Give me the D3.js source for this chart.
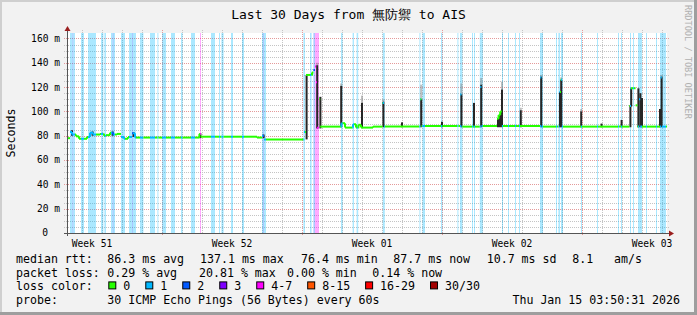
<!DOCTYPE html>
<html>
<head>
<meta charset="utf-8">
<script src="https://cdn.jsdelivr.net/npm/d3@7"></script>
<style>
  body { margin: 0; background: #fff; }
  svg text { font-family: "DejaVu Sans Mono", monospace; fill: #000; }
</style>
</head>
<body>
<svg id="chart" width="697" height="315"></svg>
<script>
// ---- data (times are days after the left edge) ----
const title = "Last 30 Days from 無防禦 to AIS";
const startTime = Date.UTC(2025, 11, 17, 6);   // left edge of the plot
const spanDays = 30;
const yTicks = [0, 20, 40, 60, 80, 100, 120, 140, 160];

// median rtt (ms), a new value holds until the next step
const medianSteps = [
  [0.00, 78], [0.15, 83], [0.25, 81], [0.45, 79.5], [0.60, 77.5], [1.00, 79],
  [1.15, 82.5], [1.30, 81], [1.65, 81.5], [1.85, 80], [1.95, 80.5], [2.15, 82.5],
  [2.30, 81], [2.50, 81.5], [2.70, 79], [2.85, 77.5], [3.05, 79], [3.25, 82],
  [3.40, 78.5], [6.62, 81.5], [6.70, 79.2], [9.50, 78.5], [9.75, 80], [9.85, 77],
  [11.85, 83], [11.95, 130], [12.25, 132], [12.32, 134], [12.40, 137], [12.45, 124],
  [12.50, 86.5], [12.58, 110], [12.66, 87.5], [13.72, 90.3], [13.90, 86.7],
  [14.30, 89.5], [14.45, 86.7], [14.57, 89], [14.70, 86.7], [15.30, 87.5],
  [15.78, 107], [15.85, 87.5], [17.66, 110], [17.72, 88], [19.66, 114], [19.72, 87.5],
  [20.66, 120], [20.72, 88], [21.50, 94], [21.58, 97], [21.66, 100], [21.74, 88],
  [23.66, 128], [23.72, 87.5], [24.62, 116], [24.68, 126], [24.74, 87.5],
  [28.12, 104.5], [28.18, 119], [28.43, 105], [28.52, 87.5], [28.60, 110], [28.66, 87.5],
  [29.68, 128], [29.74, 87.5]
];

// periods with packet loss: [from, to, loss colour index]
const lossSpans = [
  [0.15, 0.27, 1], [0.27, 0.32, 2], [0.32, 0.40, 1], [0.70, 0.85, 1], [1.05, 1.45, 1],
  [1.70, 1.82, 1], [1.87, 1.95, 1], [2.20, 2.28, 1], [2.28, 2.32, 2], [2.32, 2.40, 1],
  [2.70, 2.90, 1], [3.10, 3.25, 1], [3.25, 3.30, 2], [3.30, 3.45, 1], [3.65, 3.82, 1],
  [4.15, 4.40, 1], [4.52, 4.57, 1], [4.75, 4.95, 1], [5.20, 5.40, 1], [5.70, 5.78, 1],
  [6.20, 6.40, 1], [6.65, 6.70, 4], [7.20, 7.40, 1], [7.60, 7.65, 1], [7.72, 7.83, 1],
  [8.20, 8.30, 1], [8.75, 8.85, 1], [9.75, 9.80, 1], [9.80, 9.85, 2], [9.85, 9.95, 1],
  [11.82, 11.90, 1], [12.15, 12.23, 1], [12.32, 12.40, 2], [12.40, 12.60, 4],
  [13.70, 13.78, 1], [14.28, 14.35, 1], [14.48, 14.56, 1], [15.79, 15.89, 1],
  [17.62, 17.67, 1], [17.77, 17.90, 1], [18.70, 18.77, 1], [19.52, 19.57, 1],
  [19.65, 19.77, 1], [20.25, 20.30, 1], [20.35, 20.40, 1], [20.64, 20.79, 1],
  [21.75, 21.80, 1], [22.05, 22.10, 1], [22.40, 22.45, 1], [22.60, 22.65, 1],
  [23.65, 23.80, 1], [24.45, 24.50, 1], [24.57, 24.65, 1], [24.70, 24.80, 1],
  [25.70, 25.75, 1], [26.50, 26.55, 1], [27.55, 27.60, 1], [27.70, 27.75, 1],
  [28.15, 28.20, 1], [28.30, 28.35, 1], [28.55, 28.75, 1], [28.95, 29.00, 1],
  [29.45, 29.50, 1], [29.65, 29.95, 1]
];

// smoke columns: [time, low ms, high ms, faint top ms]
const smoke = [
  [0.20, 80, 84.5, 0], [1.23, 80, 83.5, 0], [2.23, 80, 83.5, 0], [3.28, 79, 83, 0],
  [6.62, 78, 82, 0], [9.78, 78, 81, 0], [11.93, 77, 130, 0], [12.46, 86, 138, 140],
  [12.62, 86, 112, 0], [13.66, 87, 121, 123], [14.70, 87, 107, 113], [15.77, 87, 108, 110],
  [16.70, 87, 91, 0], [17.66, 87, 110, 122], [18.70, 87, 91.5, 0], [19.67, 87, 114, 123],
  [20.30, 87, 107, 0], [20.66, 87, 122, 127.5], [21.50, 87, 94, 0], [21.60, 87, 97, 0],
  [21.70, 87, 118, 124.5], [22.64, 87, 101, 103], [23.66, 87, 128.6, 130],
  [24.60, 87, 116, 0], [24.66, 87, 126, 128], [25.66, 87, 100, 102], [26.68, 87, 90, 0],
  [27.68, 87, 93, 0], [28.12, 87, 105, 0], [28.16, 104, 119, 0], [28.52, 87, 119, 0],
  [28.62, 87, 115, 0], [28.70, 87, 111, 0], [29.60, 87, 102, 0], [29.68, 87, 128.6, 130]
];

const lossLabels = ["0", "1", "2", "3", "4-7", "8-15", "16-29", "30/30"];
const lossColors = ["#26ff00", "#00b8ff", "#0059ff", "#7e00ff", "#ff00ff", "#ff5500", "#ff0000", "#a10000"];
const rttStats = ["86.3 ms avg", "137.1 ms max", "76.4 ms min", "87.7 ms now", "10.7 ms sd", "8.1", "am/s"];
const lossStats = ["0.29 % avg", "20.81 % max", "0.00 % min", "0.14 % now"];
const probeText = "30 ICMP Echo Pings (56 Bytes) every 60s";
const stamp = "Thu Jan 15 03:50:31 2026";

// ---- layout ----
const W = 697, H = 315;
const plotLeft = 67, plotTop = 33, pw = 600, ph = 200;
const DAY = 864e5;
const at = d => new Date(startTime + d * DAY);

const svg = d3.select("#chart");
const x = d3.scaleUtc().domain([at(0), at(spanDays)]).range([plotLeft, plotLeft + pw]);
const y = d3.scaleLinear().domain([0, 164.5]).range([plotTop + ph, plotTop]);

// canvas + shaded frame
svg.append("rect").attr("width", W).attr("height", H).attr("fill", "#f2f2f2");
svg.append("rect").attr("width", W).attr("height", 2).attr("fill", "#cfcfcf");
svg.append("rect").attr("width", 2).attr("height", H).attr("fill", "#cfcfcf");
svg.append("rect").attr("x", W - 3).attr("width", 3).attr("height", H).attr("fill", "#9e9e9e");
svg.append("rect").attr("y", H - 3).attr("width", W).attr("height", 3).attr("fill", "#9e9e9e");

svg.append("rect").attr("x", plotLeft).attr("y", plotTop).attr("width", pw).attr("height", ph).attr("fill", "#fff");

// grid
const grid = svg.append("g").attr("stroke-dasharray", "1,1").attr("fill", "none");
const mondays = d3.utcMonday.range(at(0), at(spanDays));
const isMonday = t => mondays.some(m => +m === +t);
d3.utcDay.range(at(0), at(spanDays)).filter(t => !isMonday(t)).forEach(t => {
  grid.append("line").attr("x1", x(t) + 0.5).attr("x2", x(t) + 0.5)
    .attr("y1", plotTop - 3).attr("y2", plotTop + ph).attr("stroke", "#c4c4c4");
});
d3.range(5, 165, 5).filter(v => v % 20 !== 0).forEach(v => {
  grid.append("line").attr("x1", plotLeft - 3).attr("x2", plotLeft + pw + 3)
    .attr("y1", Math.round(y(v)) + 0.5).attr("y2", Math.round(y(v)) + 0.5).attr("stroke", "#c4c4c4");
});
mondays.forEach(t => {
  grid.append("line").attr("x1", x(t) + 0.5).attr("x2", x(t) + 0.5)
    .attr("y1", plotTop - 3).attr("y2", plotTop + ph + 3).attr("stroke", "#e49a9a");
});
yTicks.filter(v => v > 0).forEach(v => {
  grid.append("line").attr("x1", plotLeft - 3).attr("x2", plotLeft + pw + 3)
    .attr("y1", Math.round(y(v)) + 0.5).attr("y2", Math.round(y(v)) + 0.5).attr("stroke", "#e49a9a");
});

// loss background bands
svg.append("g").selectAll("rect").data(lossSpans).join("rect")
  .attr("x", d => x(at(d[0])))
  .attr("width", d => Math.max(1, x(at(d[1])) - x(at(d[0]))))
  .attr("y", plotTop).attr("height", ph)
  .attr("fill", d => lossColors[d[2]]).attr("opacity", 0.33);

// smoke
const colW = d => x(at(d[0] + 0.1)) - x(at(d[0]));
const sm = svg.append("g");
sm.selectAll("rect.faint").data(smoke.filter(d => d[3] > 0)).join("rect")
  .attr("class", "faint")
  .attr("x", d => x(at(d[0]))).attr("width", colW)
  .attr("y", d => y(d[3])).attr("height", d => y(d[2]) - y(d[3]))
  .attr("fill", "#8a8a8a").attr("opacity", 0.55);
sm.selectAll("rect.core").data(smoke).join("rect")
  .attr("class", "core")
  .attr("x", d => x(at(d[0]))).attr("width", colW)
  .attr("y", d => y(d[2])).attr("height", d => y(d[1]) - y(d[2]))
  .attr("fill", "#262626");

// median line, coloured by loss
const lossAt = t => { const s = lossSpans.find(s => t >= s[0] && t < s[1]); return s ? s[2] : 0; };
const valueAt = t => { let v = medianSteps[0][1]; medianSteps.forEach(s => { if (s[0] <= t) v = s[1]; }); return v; };
const cuts = Array.from(new Set([0, spanDays, ...medianSteps.map(s => s[0]), ...lossSpans.flatMap(s => [s[0], s[1]])]))
  .filter(t => t >= 0 && t <= spanDays).sort((a, b) => a - b);
const pieces = d3.pairs(cuts).map(([a, b]) => ({ a, b, v: valueAt(a), c: lossAt((a + b) / 2) }));
const med = svg.append("g").attr("fill", "none").attr("stroke-width", 2);
med.selectAll("path.h").data(pieces).join("path").attr("class", "h")
  .attr("d", p => `M${x(at(p.a))},${y(p.v)}H${Math.max(x(at(p.b)), x(at(p.a)) + 1)}`)
  .attr("stroke", p => lossColors[p.c]);
med.selectAll("path.v").data(d3.pairs(pieces).filter(([p, q]) => p.c === q.c && p.v !== q.v && Math.abs(p.v - q.v) < 6))
  .join("path").attr("class", "v")
  .attr("d", ([p, q]) => `M${x(at(p.b))},${y(p.v)}V${y(q.v)}`)
  .attr("stroke", ([p]) => lossColors[p.c]);

// axes + arrows
svg.append("line").attr("x1", plotLeft + 0.5).attr("x2", plotLeft + 0.5).attr("y1", plotTop + ph + 3).attr("y2", plotTop - 2)
  .attr("stroke", "#555");
svg.append("line").attr("x1", plotLeft - 3).attr("x2", plotLeft + pw + 3).attr("y1", plotTop + ph + 0.5).attr("y2", plotTop + ph + 0.5)
  .attr("stroke", "#555");
svg.append("path").attr("d", `M${plotLeft - 2.5},${plotTop - 2}L${plotLeft + 3.5},${plotTop - 2}L${plotLeft + 0.5},${plotTop - 7}Z`).attr("fill", "#9a1f1f");
svg.append("path").attr("d", `M${plotLeft + pw + 2},${plotTop + ph - 2.5}L${plotLeft + pw + 2},${plotTop + ph + 3.5}L${plotLeft + pw + 7},${plotTop + ph + 0.5}Z`).attr("fill", "#9a1f1f");

// tick labels
const tickFont = "9.6px";
svg.append("g").selectAll("text").data(yTicks).join("text")
  .attr("x", d => d === 0 ? 48 : 60).attr("y", d => y(d) + 3.4)
  .attr("text-anchor", "end").style("font-size", tickFont)
  .text(d => d === 0 ? "0" : d + " m");
const weekFmt = d3.utcFormat("Week %V");
const weekCenters = d3.utcMonday.range(d3.utcMonday.floor(at(0)), at(spanDays))
  .map(m => new Date(+m + 3.5 * DAY)).filter(c => c >= at(0) && c <= at(spanDays));
svg.append("g").selectAll("text").data(weekCenters).join("text")
  .attr("x", d => x(d)).attr("y", plotTop + ph + 13.5)
  .attr("text-anchor", "middle").style("font-size", tickFont)
  .text(d => weekFmt(new Date(+d - 3.5 * DAY)));

// titles
svg.append("text").attr("x", W / 2).attr("y", 19).attr("text-anchor", "middle")
  .style("font-size", "13px").text(title);
svg.append("text").attr("transform", `translate(15,${plotTop + ph / 2}) rotate(-90)`)
  .attr("text-anchor", "middle").style("font-size", "11.6px").text("Seconds");
svg.append("text").attr("transform", "translate(684.5,5) rotate(90)")
  .style("font-size", "8.6px").style("fill", "#b0b0b0").text("RRDTOOL / TOBI OETIKER");

// legend
const lf = "11.6px";
const rowY = i => 262.6 + i * 13.9;
const leg = svg.append("g").style("font-size", lf);
leg.append("text").attr("x", 16).attr("y", rowY(0)).text("median rtt:");
leg.append("text").attr("x", 16).attr("y", rowY(1)).text("packet loss:");
leg.append("text").attr("x", 16).attr("y", rowY(2)).text("loss color:");
leg.append("text").attr("x", 16).attr("y", rowY(3)).text("probe:");
const rttX = [107.3, 200, 301, 393.3, 486.7, 572.3, 614];
rttStats.forEach((s, i) => leg.append("text").attr("x", rttX[i]).attr("y", rowY(0)).text(s));
const lossX = [107.3, 199, 287, 372.3];
lossStats.forEach((s, i) => leg.append("text").attr("x", lossX[i]).attr("y", rowY(1)).text(s));
let sx = 108.3;
lossLabels.forEach((lab, i) => {
  leg.append("rect").attr("x", sx + 0.5).attr("y", rowY(2) - 8.5).attr("width", 7).attr("height", 7)
    .attr("fill", lossColors[i]).attr("stroke", "#000").attr("stroke-width", 1);
  const t = leg.append("text").attr("x", sx + 15).attr("y", rowY(2)).text(lab);
  sx = sx + 15 + t.node().getComputedTextLength() + 15;
});
leg.append("text").attr("x", 107.3).attr("y", rowY(3)).text(probeText);
leg.append("text").attr("x", 680).attr("y", rowY(3)).attr("text-anchor", "end").text(stamp);
</script>
</body>
</html>
